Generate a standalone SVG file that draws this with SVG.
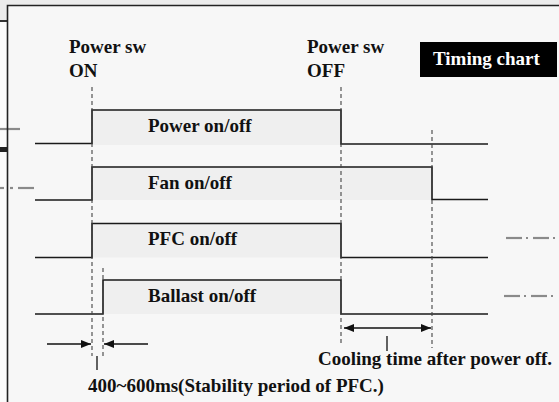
<svg xmlns="http://www.w3.org/2000/svg" width="559" height="402" viewBox="0 0 559 402">
<defs>
<style>
text{font-family:"Liberation Serif","Times New Roman",serif;font-weight:bold;font-size:19px;fill:#111}
.wave{fill:none;stroke:#1a1a1a;stroke-width:1.6}
.shade{fill:#efefef}
.vdash{stroke:#444;stroke-width:1.1;stroke-dasharray:4 3;fill:none}
.dim{stroke:#111;stroke-width:1.3;fill:none}
.frag{stroke:#8a8a8a;stroke-width:2.2;fill:none}
</style>
<marker id="ah" markerWidth="10" markerHeight="8" refX="10" refY="4" orient="auto" markerUnits="userSpaceOnUse">
<path d="M0,0 L10,4 L0,8 Z" fill="#111"/>
</marker>
</defs>
<rect x="0" y="0" width="559" height="402" fill="#fbfbfb"/>
<rect x="0" y="0" width="559" height="5" fill="#ececec"/>
<rect x="0" y="0" width="7" height="20" fill="#ececec"/>
<rect x="0" y="20" width="7" height="2" fill="#333"/>
<rect x="7" y="5" width="552" height="397" fill="#f7f7f7"/>
<!-- fragments from neighbouring figure -->
<g id="fragments">
<line class="frag" x1="0" y1="129" x2="20" y2="129"/>
<rect x="0" y="147" width="7" height="5" fill="#222"/>
<line class="frag" x1="0" y1="188" x2="4" y2="188"/>
<line class="frag" x1="10" y1="188" x2="13" y2="188"/>
<line class="frag" x1="18" y1="188" x2="34" y2="188"/>
<line class="frag" x1="506" y1="238" x2="522" y2="238"/>
<line class="frag" x1="526" y1="238" x2="528" y2="238"/>
<line class="frag" x1="533" y1="238" x2="549" y2="238"/>
<line class="frag" x1="553" y1="238" x2="555" y2="238"/>
<line class="frag" x1="504" y1="296" x2="520" y2="296"/>
<line class="frag" x1="524" y1="296" x2="526" y2="296"/>
<line class="frag" x1="531" y1="296" x2="547" y2="296"/>
<line class="frag" x1="551" y1="296" x2="553" y2="296"/>
</g>
<g id="frame">
<path d="M7.5,402 V5.5 H559" fill="none" stroke="#222" stroke-width="1.6"/>
</g>
<g id="title">
<rect x="420" y="42" width="137" height="35" fill="#000"/>
<text x="433" y="65" style="fill:#fff">Timing chart</text>
</g>
<g id="sw-on">
<text x="69" y="53">Power sw</text>
<text x="69" y="77">ON</text>
</g>
<g id="sw-off">
<text x="307" y="53">Power sw</text>
<text x="307" y="77">OFF</text>
</g>
<g id="power">
<rect class="shade" x="92" y="110" width="249" height="35"/>
<path class="wave" d="M35,143.5 H92 V110 H341 V144 H488"/>
<text x="148" y="132">Power on/off</text>
</g>
<g id="fan">
<rect class="shade" x="92" y="167" width="340" height="33"/>
<path class="wave" d="M35,200 H92 V167 H432 V199.5 H488"/>
<text x="148" y="189">Fan on/off</text>
</g>
<g id="pfc">
<rect class="shade" x="92" y="223.5" width="249" height="34"/>
<path class="wave" d="M35,257.5 H92 V223.5 H341 V257.5 H488"/>
<text x="148" y="245">PFC on/off</text>
</g>
<g id="ballast">
<rect class="shade" x="103" y="280" width="238" height="34"/>
<path class="wave" d="M35,314 H103 V280 H341 V314 H488"/>
<text x="148" y="302">Ballast on/off</text>
</g>
<g id="connectors">
<line class="vdash" x1="92" y1="87" x2="92" y2="356"/>
<line class="vdash" x1="103" y1="268" x2="103" y2="356"/>
<line class="vdash" x1="341" y1="87" x2="341" y2="346"/>
<line class="vdash" x1="432" y1="130" x2="432" y2="348"/>
<line class="dim" x1="47" y1="344" x2="91" y2="344" marker-end="url(#ah)"/>
<line class="dim" x1="148" y1="344" x2="104" y2="344" marker-end="url(#ah)"/>
<line class="dim" x1="97" y1="356" x2="97" y2="370"/>
<line class="dim" x1="387" y1="328" x2="344" y2="328" marker-end="url(#ah)"/>
<line class="dim" x1="387" y1="328" x2="431" y2="328" marker-end="url(#ah)"/>
<line class="dim" x1="387" y1="336" x2="387" y2="351"/>
</g>
<g id="notes">
<text x="88" y="392">400~600ms(Stability period of PFC.)</text>
<text x="318" y="365">Cooling time after power off.</text>
</g>
</svg>
